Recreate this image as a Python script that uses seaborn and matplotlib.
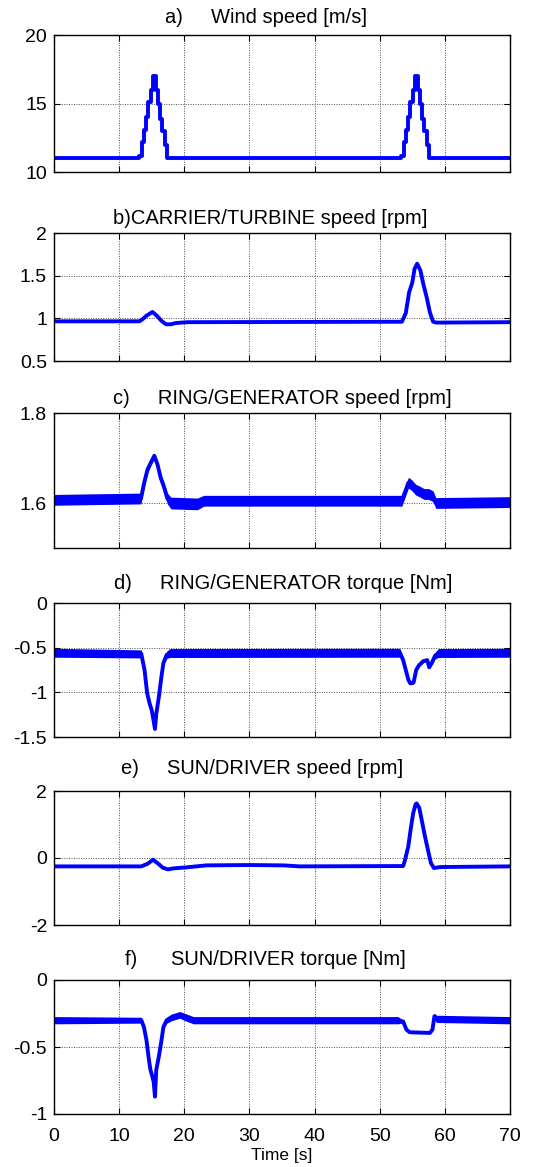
import matplotlib
matplotlib.use("Agg")
import matplotlib.pyplot as plt
import numpy as np
import seaborn as sns

sns.set_style("ticks")
plt.rcParams['font.family'] = ['Liberation Sans', 'DejaVu Sans']
plt.rcParams['axes.unicode_minus'] = False
plt.rcParams['text.color'] = 'black'

# ---------------------------------------------------------------- data
# a) wind speed, a stepped gust profile
wind_t = [0, 13.1, 13.5, 13.8, 14.1, 14.4, 14.9, 15.2, 15.7, 16.0, 16.3, 16.6, 17.0, 17.4,
          53.3, 53.7, 54.0, 54.3, 54.6, 55.1, 55.4, 55.9, 56.2, 56.5, 56.8, 57.2, 57.6, 70]
wind_v = [11, 11.2, 12.2, 13.1, 14.0, 15.1, 16.0, 17.0, 16.0, 15.0, 13.9, 13.0, 12.0, 11.0,
          11.2, 12.2, 13.1, 14.0, 15.1, 16.0, 17.0, 16.0, 15.0, 13.9, 13.0, 12.0, 11.0, 11.0]

# b) carrier / turbine speed
carrier_t = [0, 13.1, 13.6, 14.2, 15.1, 15.8, 16.5, 17.2, 17.9, 18.7, 20.5,
             53.4, 54.0, 54.5, 55.0, 55.35, 55.75, 56.25, 56.7, 57.2, 57.7, 58.2, 58.7, 70]
carrier_v = [0.965, 0.965, 0.99, 1.03, 1.075, 1.03, 0.97, 0.93, 0.93, 0.945, 0.955,
             0.96, 1.06, 1.30, 1.42, 1.58, 1.64, 1.56, 1.40, 1.25, 1.07, 0.96, 0.95, 0.955]

# c) ring / generator speed (mean level and half-width of the ripple band)
ring_t = [0, 13.35, 13.86, 14.37, 14.88, 15.4, 15.9, 16.4, 16.9, 17.4, 17.95, 22.0, 23.0,
          53.4, 53.9, 54.4, 54.9, 55.5, 56.2, 56.8, 57.5, 58.2, 58.6, 70]
ring_v = [1.607, 1.61, 1.646, 1.675, 1.69, 1.705, 1.685, 1.655, 1.635, 1.61, 1.60, 1.598, 1.605,
          1.605, 1.625, 1.645, 1.64, 1.63, 1.625, 1.62, 1.62, 1.615, 1.60, 1.602]
ring_ripple = [0.012, 0.012, 0.010, 0.008, 0.006, 0.004, 0.006, 0.008, 0.010, 0.012, 0.013, 0.013, 0.012,
               0.012, 0.012, 0.012, 0.012, 0.012, 0.012, 0.012, 0.012, 0.012, 0.012, 0.012]

# d) ring / generator torque
ringtq_t = [0, 13.4, 13.9, 14.3, 14.7, 15.0, 15.2, 15.5, 15.7, 16.1, 16.5, 16.8, 17.3, 17.8,
            53.1, 53.6, 54.0, 54.4, 54.7, 55.2, 55.6, 56.0, 56.7, 57.3, 57.6, 58.0, 58.5, 59.0, 70]
ringtq_v = [-0.557, -0.57, -0.75, -1.01, -1.13, -1.20, -1.28, -1.41, -1.24, -1.05, -0.82, -0.67, -0.58, -0.56,
            -0.557, -0.64, -0.75, -0.86, -0.90, -0.89, -0.75, -0.70, -0.65, -0.64, -0.72, -0.67, -0.59, -0.56, -0.557]
ringtq_ripple = [0.050, 0.045, 0.025, 0.020, 0.020, 0.020, 0.020, 0.020, 0.020, 0.020, 0.020, 0.025, 0.040, 0.050,
                 0.050, 0.030, 0.020, 0.015, 0.015, 0.015, 0.015, 0.015, 0.015, 0.015, 0.015, 0.015, 0.035, 0.050, 0.050]

# e) sun / driver speed
sun_t = [0, 13.4, 14.4, 15.2, 16.0, 16.7, 17.5, 18.3, 20.3, 23.4, 30.0, 35.2, 37.7,
         53.6, 53.87, 54.38, 54.74, 55.14, 55.5, 55.66, 56.07, 56.43, 56.94, 57.45, 57.86, 58.32, 59.24, 70]
sun_v = [-0.25, -0.25, -0.17, -0.05, -0.17, -0.29, -0.34, -0.31, -0.28, -0.22, -0.21, -0.22, -0.25,
         -0.24, -0.07, 0.34, 0.84, 1.34, 1.60, 1.63, 1.50, 1.15, 0.65, 0.20, -0.15, -0.30, -0.27, -0.25]

# f) sun / driver torque
suntq_t = [0, 13.4, 13.8, 14.2, 14.5, 14.8, 15.1, 15.3, 15.5, 15.7, 16.1, 16.5, 16.8, 17.3, 18.0, 19.3, 20.3, 21.4,
           52.8, 53.6, 54.1, 54.6, 57.7, 58.1, 58.4, 58.7, 70]
suntq_v = [-0.30, -0.30, -0.35, -0.45, -0.57, -0.67, -0.72, -0.76, -0.87, -0.67, -0.57, -0.45, -0.35, -0.30, -0.28, -0.26, -0.28, -0.30,
           -0.30, -0.31, -0.37, -0.39, -0.395, -0.37, -0.27, -0.29, -0.30]
suntq_ripple = [0.027, 0.022, 0.015, 0.012, 0.012, 0.012, 0.012, 0.015, 0.012, 0.012, 0.012, 0.012, 0.015, 0.022, 0.025, 0.025, 0.027, 0.027,
                0.027, 0.010, 0.005, 0.0, 0.0, 0.005, 0.022, 0.027, 0.027]

titles = ["a)     Wind speed [m/s]",
          "b)CARRIER/TURBINE speed [rpm]",
          "c)     RING/GENERATOR speed [rpm]",
          "d)     RING/GENERATOR torque [Nm]",
          "e)     SUN/DRIVER speed [rpm]",
          "f)      SUN/DRIVER torque [Nm]"]

ylims = [(10, 20), (0.5, 2), (1.5, 1.8), (-1.5, 0), (-2, 2), (-1, 0)]
yticks = [[10, 15, 20], [0.5, 1, 1.5, 2], [1.6, 1.8], [-1.5, -1, -0.5, 0], [-2, 0, 2], [-1, -0.5, 0]]
yticklabels = [["10", "15", "20"], ["0.5", "1", "1.5", "2"], ["1.6", "1.8"],
               ["-1.5", "-1", "-0.5", "0"], ["-2", "0", "2"], ["-1", "-0.5", "0"]]
xticks = [0, 10, 20, 30, 40, 50, 60, 70]
xticklabels = ["0", "10", "20", "30", "40", "50", "60", "70"]

# ---------------------------------------------------------------- layout
W, H = 534, 1167
fig = plt.figure(figsize=(W / 100, H / 100), dpi=100)
left_px, right_px = 54, 510
tops = [35, 233, 413, 603, 791, 980]
bottoms = [172, 361, 548, 737, 925, 1114]
title_x = [0.465, 0.474, 0.501, 0.503, 0.456, 0.463]
title_pad = [8.8, 6.8, 6.8, 10.4, 12.0, 10.8]

BLUE = "#0000FF"
LW = 2.8

series = [
    (wind_t, wind_v, None, "steps-post"),
    (carrier_t, carrier_v, None, "default"),
    (ring_t, ring_v, ring_ripple, "default"),
    (ringtq_t, ringtq_v, ringtq_ripple, "default"),
    (sun_t, sun_v, None, "default"),
    (suntq_t, suntq_v, suntq_ripple, "default"),
]

for i, (t, v, ripple, ds) in enumerate(series):
    ax = fig.add_axes([left_px / W, 1 - bottoms[i] / H,
                       (right_px - left_px) / W, (bottoms[i] - tops[i]) / H])
    if ripple is not None:
        lo = [a - b for a, b in zip(v, ripple)]
        hi = [a + b for a, b in zip(v, ripple)]
        ax.fill_between(t, lo, hi, color=BLUE, linewidth=0, zorder=3)
    sns.lineplot(x=t, y=v, ax=ax, color=BLUE, linewidth=LW, estimator=None,
                 sort=False, drawstyle=ds, zorder=4)

    ax.set_xlim(0, 70)
    ax.set_ylim(*ylims[i])
    ax.set_xticks(xticks)
    ax.set_yticks(yticks[i])
    ax.set_yticklabels(yticklabels[i])
    ax.grid(True, linestyle=(0, (1, 1.5)), color="#505050", linewidth=0.7, zorder=1)
    for s in ax.spines.values():
        s.set_visible(True)
        s.set_color("black")
        s.set_linewidth(1.0)
        s.set_zorder(5)
    ax.tick_params(axis="both", direction="in", length=4, width=0.8,
                   top=True, right=True, labelsize=14, colors="black")
    ax.tick_params(axis="y", pad=5)
    if i < 5:
        ax.tick_params(axis="x", labelbottom=False)
    else:
        ax.set_xticklabels(xticklabels)
        ax.tick_params(axis="x", pad=10)
        ax.set_xlabel("Time [s]", fontsize=12.5, labelpad=2, color="black")
    ax.set_ylabel("")
    ax.set_title(titles[i], fontsize=14.5, x=title_x[i], pad=title_pad[i], color="black")

fig.savefig("out.png", dpi=100)
